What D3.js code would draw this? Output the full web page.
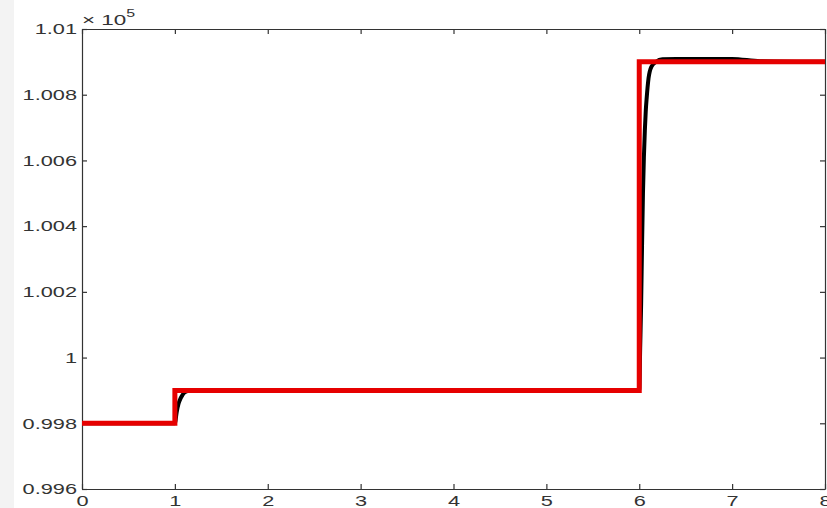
<!DOCTYPE html>
<html>
<head>
<meta charset="utf-8">
<script src="https://cdn.jsdelivr.net/npm/d3@7"></script>
<style>
  body { margin: 0; background: #fff; }
  svg { display: block; }
</style>
</head>
<body>
<div id="chart"></div>
<script>
// reference setpoint (red), time in s, value in Pa
const refTime = [0, 1, 1, 6, 6, 8];
const refValue = [99800, 99800, 99900, 99900, 100900, 100900];

// simulated response (black)
const simTime = [0, 1, 1.02, 1.04, 1.06, 1.08, 1.1, 1.15, 1.2, 6, 6.01, 6.02, 6.03, 6.04, 6.05, 6.06, 6.07, 6.08, 6.1, 6.13, 6.18, 6.25, 6.4, 7.0, 7.3, 8];
const simValue = [99800, 99800, 99835, 99860, 99875, 99885, 99893, 99899, 99900, 99900, 100030, 100160, 100340, 100500, 100610, 100690, 100750, 100790, 100850, 100885, 100900, 100908, 100909, 100909, 100902, 100900];

const xTicks = [0, 1, 2, 3, 4, 5, 6, 7, 8];
const yTicks = [99600, 99800, 100000, 100200, 100400, 100600, 100800, 101000];
const yExponent = 5;

const width = 827, height = 508;
const margin = { top: 29, right: 2, bottom: 19, left: 82 };
const stretch = 1.45; // tick text is drawn wide in the original

const svg = d3.select("#chart")
    .append("svg")
    .attr("width", width)
    .attr("height", height);

// light strip along the left edge of the picture
svg.append("rect")
    .attr("x", 0).attr("y", 0)
    .attr("width", 14).attr("height", height)
    .attr("fill", "#f3f3f3");

const x = d3.scaleLinear()
    .domain([0, 8])
    .range([margin.left, width - margin.right]);

const y = d3.scaleLinear()
    .domain([99600, 101000])
    .range([height - margin.bottom, margin.top]);

const fmtY = v => String(+(v / Math.pow(10, yExponent)).toFixed(3));

function styleAxis(g) {
    g.selectAll("path, line").attr("stroke", "#333").attr("stroke-width", 1.2);
    g.selectAll("text")
        .attr("fill", "#333")
        .attr("font-family", "Liberation Sans, Arial, sans-serif")
        .attr("font-size", 15);
}

// left axis with labels
const gLeft = svg.append("g")
    .attr("transform", `translate(${margin.left},0)`)
    .call(d3.axisLeft(y).tickValues(yTicks).tickFormat(fmtY)
        .tickSize(-5).tickSizeOuter(0).tickPadding(5));
styleAxis(gLeft);
gLeft.selectAll("text")
    .attr("x", -5 / stretch)
    .attr("transform", `scale(${stretch},1)`);

// bottom axis with labels
const gBottom = svg.append("g")
    .attr("transform", `translate(0,${height - margin.bottom})`)
    .call(d3.axisBottom(x).tickValues(xTicks).tickFormat(d3.format("d"))
        .tickSize(-5).tickSizeOuter(0).tickPadding(6));
styleAxis(gBottom);
gBottom.selectAll("text")
    .attr("transform", `scale(${stretch},1)`);

// top and right axes: ticks only
const gTop = svg.append("g")
    .attr("transform", `translate(0,${margin.top})`)
    .call(d3.axisTop(x).tickValues(xTicks).tickFormat("")
        .tickSize(-5).tickSizeOuter(0));
styleAxis(gTop);

const gRight = svg.append("g")
    .attr("transform", `translate(${width - margin.right},0)`)
    .call(d3.axisRight(y).tickValues(yTicks).tickFormat("")
        .tickSize(-5).tickSizeOuter(0));
styleAxis(gRight);

// exponent label above the y axis
const expLabel = svg.append("text")
    .attr("transform", `translate(${margin.left},25) scale(${stretch},1)`)
    .attr("fill", "#333")
    .attr("font-family", "Liberation Sans, Arial, sans-serif")
    .attr("font-size", 15.5);
expLabel.append("tspan").text("\u00d7 10");
expLabel.append("tspan")
    .attr("dy", -8)
    .attr("font-size", 11)
    .text(yExponent);

// lines
const line = d3.line()
    .x(i => x(i[0]))
    .y(i => y(i[1]));

const simData = simTime.map((t, i) => [t, simValue[i]]);
const refData = refTime.map((t, i) => [t, refValue[i]]);

svg.append("path")
    .datum(simData)
    .attr("d", line.curve(d3.curveMonotoneX))
    .attr("fill", "none")
    .attr("stroke", "#000")
    .attr("stroke-width", 4)
    .attr("stroke-linejoin", "round");

svg.append("path")
    .datum(refData)
    .attr("d", line.curve(d3.curveLinear))
    .attr("fill", "none")
    .attr("stroke", "#e60000")
    .attr("stroke-width", 5)
    .attr("stroke-linejoin", "miter");
</script>
</body>
</html>
